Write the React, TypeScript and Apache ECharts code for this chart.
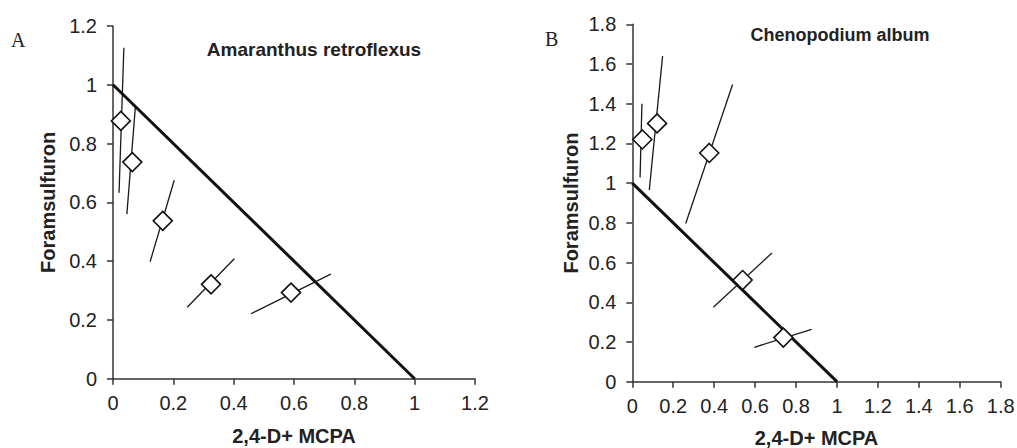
import React, { useEffect, useRef } from "react";
import * as echarts from "echarts";

// Panel A: Amaranthus retroflexus
const A_x = [0.026, 0.064, 0.165, 0.325, 0.59];
const A_y = [0.877, 0.737, 0.537, 0.321, 0.293];
const A_lowX = [0.02, 0.046, 0.123, 0.246, 0.457];
const A_lowY = [0.633, 0.56, 0.398, 0.243, 0.221];
const A_highX = [0.036, 0.074, 0.203, 0.402, 0.722];
const A_highY = [1.126, 0.923, 0.675, 0.408, 0.356];

// Panel B: Chenopodium album
const B_x = [0.049, 0.121, 0.376, 0.539, 0.738];
const B_y = [1.22, 1.301, 1.152, 0.512, 0.222];
const B_lowX = [0.038, 0.083, 0.261, 0.396, 0.596];
const B_lowY = [1.029, 0.965, 0.797, 0.375, 0.173];
const B_highX = [0.047, 0.148, 0.49, 0.682, 0.876];
const B_highY = [1.4, 1.64, 1.497, 0.648, 0.264];

// Additivity line
const additivityLine = [
  [0, 1],
  [1, 0],
];

const A_max = 1.2;
const B_max = 1.8;
const tickStep = 0.2;

const xName = "2,4-D+ MCPA";
const yName = "Foramsulfuron";
const titleA = "Amaranthus retroflexus";
const titleB = "Chenopodium album";

const FONT = "'Liberation Sans', Arial, sans-serif";
const AXIS_COLOR = "#333";
const TEXT_COLOR = "#222";

function axisCommon(max: number, margin: number) {
  return {
    type: "value" as const,
    min: 0,
    max,
    interval: tickStep,
    splitLine: { show: false },
    axisLine: { show: true, onZero: false, lineStyle: { color: AXIS_COLOR, width: 1.5 } },
    axisTick: { show: true, length: 6, lineStyle: { color: AXIS_COLOR, width: 1.5 } },
    axisLabel: { color: TEXT_COLOR, fontFamily: FONT, fontSize: 20, margin },
    nameTextStyle: { color: TEXT_COLOR, fontFamily: FONT, fontSize: 20, lineHeight: 20, fontWeight: "bold" as const },
  };
}

function panelSeries(
  idx: number,
  xs: number[],
  ys: number[],
  lx: number[],
  ly: number[],
  hx: number[],
  hy: number[]
) {
  const out: any[] = [];
  out.push({
    type: "line",
    xAxisIndex: idx,
    yAxisIndex: idx,
    data: additivityLine,
    symbol: "none",
    lineStyle: { color: "#111", width: 3 },
    z: 3,
    silent: true,
  });
  xs.forEach((_, i) => {
    out.push({
      type: "line",
      xAxisIndex: idx,
      yAxisIndex: idx,
      data: [
        [lx[i], ly[i]],
        [hx[i], hy[i]],
      ],
      symbol: "none",
      lineStyle: { color: "#1a1a1a", width: 1.3 },
      z: 2,
      silent: true,
    });
  });
  out.push({
    type: "scatter",
    xAxisIndex: idx,
    yAxisIndex: idx,
    data: xs.map((x, i) => [x, ys[i]]),
    symbol: "diamond",
    symbolSize: 19,
    itemStyle: { color: "#fff", borderColor: "#111", borderWidth: 1.6, opacity: 1 },
    z: 5,
    silent: true,
  });
  return out;
}

export default function App() {
  const ref = useRef<HTMLDivElement>(null);
  useEffect(() => {
    document.body.style.margin = "0";
    if (!ref.current) return;
    const chart = echarts.init(ref.current, null, { renderer: "svg" });
    chart.setOption({
      animation: false,
      backgroundColor: "#fff",
      grid: [
        { left: 113, top: 26, width: 362, height: 352.7, containLabel: false, outerBoundsMode: "none" },
        { left: 632.3, top: 24.3, width: 368.4, height: 357.4, containLabel: false, outerBoundsMode: "none" },
      ],
      xAxis: [
        { ...axisCommon(A_max, 14), gridIndex: 0, name: xName, nameLocation: "middle", nameGap: 47 },
        { ...axisCommon(B_max, 14), gridIndex: 1, name: xName, nameLocation: "middle", nameGap: 46 },
      ],
      yAxis: [
        { ...axisCommon(A_max, 16), gridIndex: 0, name: yName, nameLocation: "middle", nameGap: 55 },
        { ...axisCommon(B_max, 16), gridIndex: 1, name: yName, nameLocation: "middle", nameGap: 51 },
      ],
      graphic: [
        { type: "text", left: 11, top: 30, style: { text: "A", font: "20px 'Liberation Serif', 'Times New Roman', serif", fill: "#222" } },
        { type: "text", left: 545, top: 29, style: { text: "B", font: "20px 'Liberation Serif', 'Times New Roman', serif", fill: "#222" } },
        { type: "text", x: 314, y: 49, style: { text: titleA, font: `bold 19px ${FONT}`, fill: "#222", textAlign: "center", textVerticalAlign: "middle" } },
        { type: "text", x: 840, y: 35, style: { text: titleB, font: `bold 18px ${FONT}`, fill: "#222", textAlign: "center", textVerticalAlign: "middle" } },
      ],
      series: [
        ...panelSeries(0, A_x, A_y, A_lowX, A_lowY, A_highX, A_highY),
        ...panelSeries(1, B_x, B_y, B_lowX, B_lowY, B_highX, B_highY),
      ],
    });
    return () => chart.dispose();
  }, []);
  return <div ref={ref} style={{ position: "fixed", left: 0, top: 0, width: 1017, height: 448 }} />;
}
